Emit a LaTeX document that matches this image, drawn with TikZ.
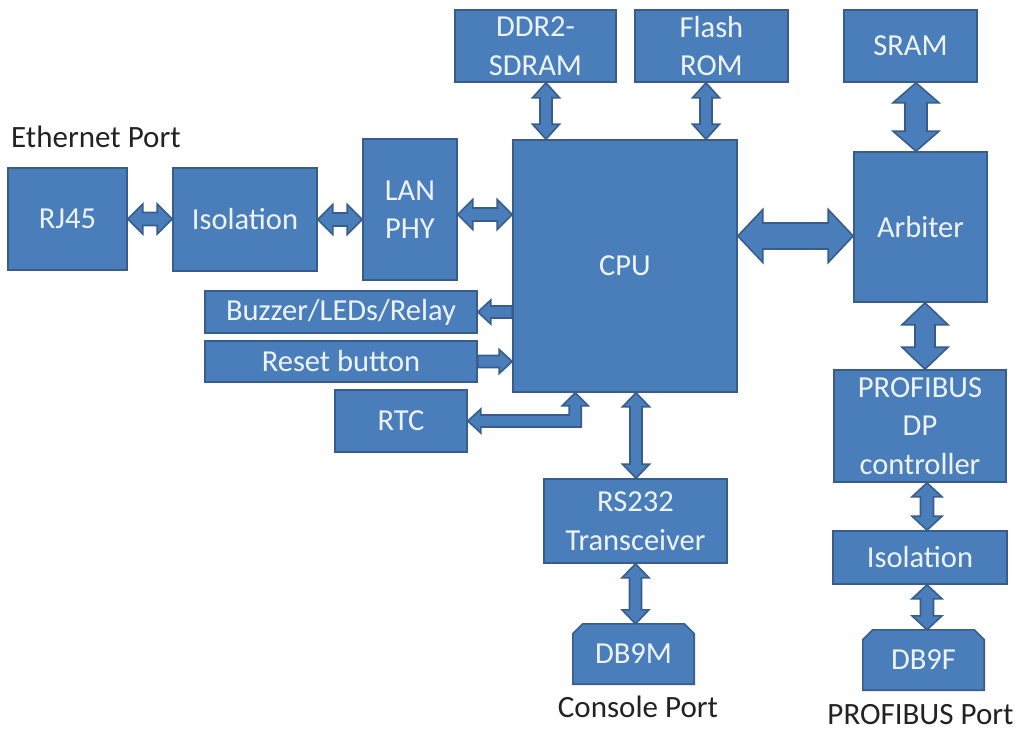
\documentclass[tikz,border=0pt]{standalone}
\usepackage{fontspec}
\setmainfont{Carlito}
\usetikzlibrary{calc}
\definecolor{bfill}{HTML}{4A7EBB}
\definecolor{bline}{HTML}{385D8A}
\definecolor{btext}{HTML}{EEF3FA}
\definecolor{ltext}{HTML}{222222}
\pgfdeclarelayer{back}\pgfdeclarelayer{bg}\pgfsetlayers{back,bg,main}
% horizontal double block arrow: left point, right point, shaft half, head half, head length
\newcommand\hbiarrow[5]{%
  \path[arr] let \p1=(#1), \p2=(#2) in
   (\x1,\y1) -- (\x1+#5pt,\y1+#4pt) -- (\x1+#5pt,\y1+#3pt) -- (\x2-#5pt,\y1+#3pt)
   -- (\x2-#5pt,\y1+#4pt) -- (\x2,\y1) -- (\x2-#5pt,\y1-#4pt) -- (\x2-#5pt,\y1-#3pt)
   -- (\x1+#5pt,\y1-#3pt) -- (\x1+#5pt,\y1-#4pt) -- cycle;}
% vertical double block arrow: top point, bottom point, shaft half, head half, head length
\newcommand\vbiarrow[5]{%
  \path[arr] let \p1=(#1), \p2=(#2) in
   (\x1,\y1) -- (\x1+#4pt,\y1-#5pt) -- (\x1+#3pt,\y1-#5pt) -- (\x1+#3pt,\y2+#5pt)
   -- (\x1+#4pt,\y2+#5pt) -- (\x1,\y2) -- (\x1-#4pt,\y2+#5pt) -- (\x1-#3pt,\y2+#5pt)
   -- (\x1-#3pt,\y1-#5pt) -- (\x1-#4pt,\y1-#5pt) -- cycle;}
% single horizontal block arrow: head point, tail point, shaft half, head half, signed head length
\newcommand\hsarrow[5]{%
  \path[arr] let \p1=(#1), \p2=(#2), \n1={#5} in
   (\x1,\y1) -- ({\x1+\n1*1pt},{\y1+#4pt}) -- ({\x1+\n1*1pt},{\y1+#3pt}) -- (\x2,\y1+#3pt)
   -- (\x2,\y1-#3pt) -- ({\x1+\n1*1pt},{\y1-#3pt}) -- ({\x1+\n1*1pt},{\y1-#4pt}) -- cycle;}
\begin{document}
\begin{tikzpicture}[x=1pt,y=-1pt,
  blk/.style={draw=bline, fill=bfill, line width=1.6pt},
  box/.style={blk, rectangle, inner sep=0pt, align=center, text=btext,
    font=\fontsize{30.5}{38.5}\selectfont},
  conn/.style={rectangle, inner sep=0pt, align=center, text=btext,
    font=\fontsize{30.5}{38.5}\selectfont},
  arr/.style={blk, line join=miter},
  lbl/.style={inner sep=0pt, text=ltext, font=\fontsize{31}{37}\selectfont}]
\useasboundingbox (0,0) rectangle (1021,731);
\begin{pgfonlayer}{back}
\fill[white] (0,0) rectangle (1021,731);
\end{pgfonlayer}

% boxes
\node[box, minimum width=119pt, minimum height=102pt] (rj)    at (67.5,219)  {RJ45};
\node[box, minimum width=144pt, minimum height=103pt] (iso1)  at (245,219.5) {Isolation};
\node[box, minimum width=94pt,  minimum height=141pt] (lan)   at (410,209.5) {LAN\\PHY};
\node[box, minimum width=224pt, minimum height=252pt] (cpu)   at (625,266)   {CPU};
\node[box, minimum width=272pt, minimum height=42pt]  (buzz)  at (341,312)   {Buzzer/LEDs/Relay};
\node[box, minimum width=272pt, minimum height=41pt]  (reset) at (341,361.5) {Reset button};
\node[box, minimum width=132pt, minimum height=62pt]  (rtc)   at (401,421)   {RTC};
\node[box, minimum width=161pt, minimum height=72pt]  (ddr)   at (535.5,46)  {DDR2-\\SDRAM};
\node[box, minimum width=153pt, minimum height=72pt]  (flash) at (711.5,46)  {Flash\\ROM};
\node[box, minimum width=133pt, minimum height=72pt]  (sram)  at (910.5,46)  {SRAM};
\node[box, minimum width=133pt, minimum height=150pt] (arb)   at (920.5,227) {Arbiter};
\node[box, minimum width=172pt, minimum height=112pt] (dp)    at (920,426)   {PROFIBUS\\DP\\controller};
\node[box, minimum width=174pt, minimum height=53pt]  (iso2)  at (920,557.5) {Isolation};
\node[box, minimum width=183pt, minimum height=84pt]  (rs)    at (635.5,521) {RS232\\Transceiver};
\node[conn, minimum width=121pt, minimum height=60pt] (db9m)  at (633.5,654) {DB9M};
\node[conn, minimum width=121pt, minimum height=60pt] (db9f)  at (923.5,660) {DB9F};

% connector shapes (chamfered top corners)
\begin{pgfonlayer}{bg}
\path[blk, line join=miter] (db9m.south west) -- ($(db9m.north west)+(0,10)$)
  -- ($(db9m.north west)+(10,0)$) -- ($(db9m.north east)+(-10,0)$)
  -- ($(db9m.north east)+(0,10)$) -- (db9m.south east) -- cycle;
\path[blk, line join=miter] (db9f.south west) -- ($(db9f.north west)+(0,10)$)
  -- ($(db9f.north west)+(10,0)$) -- ($(db9f.north east)+(-10,0)$)
  -- ($(db9f.north east)+(0,10)$) -- (db9f.south east) -- cycle;
\end{pgfonlayer}

% labels
\node[lbl, anchor=base west] (ethl) at (11,147) {Ethernet Port};
\node[lbl, anchor=base] (conl) at (638,717) {Console Port};
\node[lbl, anchor=base] (pbl) at (920.5,724.5) {PROFIBUS Port};

% Ethernet chain
\hbiarrow{rj.east}{iso1.west}{6.5}{15}{15}
\hbiarrow{iso1.east}{lan.west}{6.5}{15}{15}
\hbiarrow{$(lan.east)+(0,5)$}{cpu.west}{6.5}{15}{15}

% buzzer / reset
\hsarrow{buzz.east}{cpu.west}{6}{12}{13}
\hsarrow{cpu.west |- reset.east}{reset.east}{6}{12}{-13}

% RTC elbow
\path[arr] let \p1=($(cpu.south west)+(63,0)$), \p2=(rtc.east) in
  (\x1,\y1) -- (\x1+13pt,\y1-13pt) -- (\x1+6pt,\y1-13pt) -- (\x1+6pt,\y2-6pt)
  -- (\x2+13pt,\y2-6pt) -- (\x2+13pt,\y2-12pt) -- (\x2,\y2) -- (\x2+13pt,\y2+12pt)
  -- (\x2+13pt,\y2+6pt) -- (\x1-6pt,\y2+6pt) -- (\x1-6pt,\y1-13pt)
  -- (\x1-13pt,\y1-13pt) -- cycle;

% memories
\vbiarrow{$(ddr.south)+(10.5,0)$}{cpu.north}{6}{13.5}{15}
\vbiarrow{$(flash.south)+(-5.5,0)$}{cpu.north}{6}{13.5}{15}
\vbiarrow{$(sram.south)+(5.5,0)$}{arb.north}{11}{23}{20}

% CPU - Arbiter
\hbiarrow{$(cpu.east)+(0,-30)$}{arb.west}{13}{26.5}{25}

% PROFIBUS chain
\vbiarrow{$(arb.south)+(4.5,0)$}{dp.north}{10}{23}{22}
\vbiarrow{$(dp.south)+(7,0)$}{iso2.north}{6.5}{15}{14}
\vbiarrow{$(iso2.south)+(7,0)$}{db9f.north}{6.5}{15}{14}

% console chain
\vbiarrow{$(cpu.south)+(11,0)$}{rs.north}{6}{13.5}{14}
\vbiarrow{rs.south}{db9m.north}{6}{13.5}{14}
\end{tikzpicture}
\end{document}
